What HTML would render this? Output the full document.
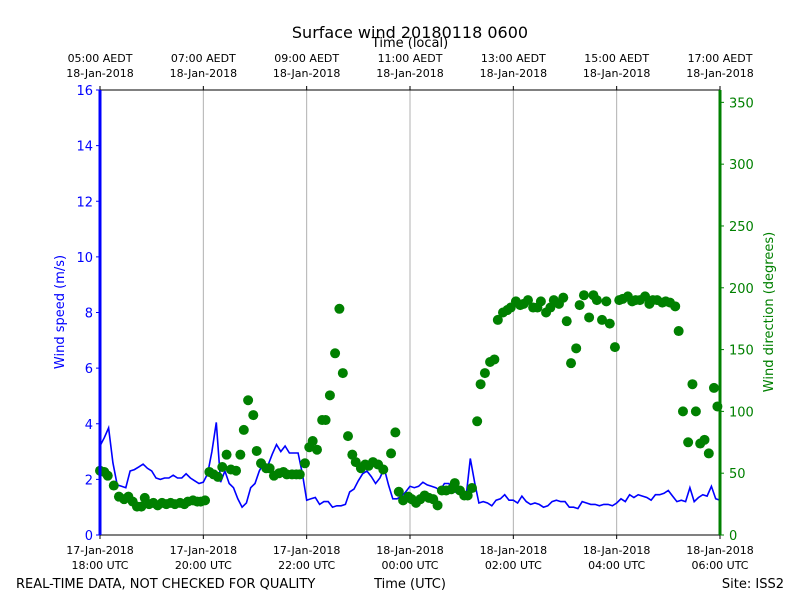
<!DOCTYPE html>
<html><head><meta charset="utf-8"><style>
body{margin:0;background:#fff}
svg{display:block;font-family:"DejaVu Sans","Liberation Sans",sans-serif}
</style></head><body>
<svg id="chart" width="800" height="600" viewBox="0 0 800 600" xmlns="http://www.w3.org/2000/svg">
<rect width="800" height="600" fill="#fff"/>
<text x="410" y="38" font-size="16" text-anchor="middle">Surface wind 20180118 0600</text>
<text x="410" y="47" font-size="13" text-anchor="middle">Time (local)</text>
<g id="grid"></g>
<g id="series"></g>
<g id="axes"></g>
<text transform="translate(64,312) rotate(-90)" font-size="13" fill="#0000ff" text-anchor="middle">Wind speed (m/s)</text>
<text transform="translate(773,312) rotate(-90)" font-size="13" fill="#008000" text-anchor="middle">Wind direction (degrees)</text>
<text x="16" y="588" font-size="13">REAL-TIME DATA, NOT CHECKED FOR QUALITY</text>
<text x="410" y="588" font-size="13" text-anchor="middle">Time (UTC)</text>
<text x="784" y="588" font-size="13" text-anchor="end">Site: ISS2</text>
</svg>
<script>
const bottomTicks=["17-Jan-2018|18:00 UTC","17-Jan-2018|20:00 UTC","17-Jan-2018|22:00 UTC","18-Jan-2018|00:00 UTC","18-Jan-2018|02:00 UTC","18-Jan-2018|04:00 UTC","18-Jan-2018|06:00 UTC"];
const topTicks=["05:00 AEDT|18-Jan-2018","07:00 AEDT|18-Jan-2018","09:00 AEDT|18-Jan-2018","11:00 AEDT|18-Jan-2018","13:00 AEDT|18-Jan-2018","15:00 AEDT|18-Jan-2018","17:00 AEDT|18-Jan-2018"];
const speedTicks=[0,2,4,6,8,10,12,14,16];
const dirTicks=[0,50,100,150,200,250,300,350];
const speed=[3.2,3.5,3.85,2.6,1.8,1.75,1.7,2.3,2.35,2.45,2.55,2.4,2.3,2.05,2.0,2.05,2.05,2.15,2.05,2.05,2.2,2.05,1.95,1.85,1.9,2.2,3.0,4.05,1.9,2.3,1.85,1.7,1.3,1.0,1.15,1.7,1.85,2.3,2.6,2.5,2.9,3.25,3.0,3.2,2.95,2.95,2.95,2.2,1.25,1.3,1.35,1.1,1.2,1.2,1.0,1.05,1.05,1.1,1.55,1.65,1.95,2.2,2.3,2.1,1.85,2.05,2.4,1.8,1.3,1.3,1.4,1.55,1.75,1.7,1.75,1.9,1.8,1.75,1.7,1.6,1.85,1.85,1.6,1.5,1.45,1.35,2.75,1.9,1.15,1.2,1.15,1.05,1.25,1.3,1.45,1.25,1.25,1.15,1.4,1.2,1.1,1.15,1.1,1.0,1.05,1.2,1.25,1.2,1.2,1.0,1.0,0.95,1.2,1.15,1.1,1.1,1.05,1.1,1.1,1.05,1.15,1.3,1.2,1.45,1.35,1.45,1.4,1.35,1.25,1.45,1.45,1.5,1.6,1.4,1.2,1.25,1.2,1.7,1.2,1.35,1.45,1.4,1.75,1.3,1.25];
const dirMinutes=[0,5,9,16,22,28,33,38,43,48,52,57,62,67,72,77,82,87,93,98,102,108,113,117,122,127,132,137,142,147,152,158,163,167,172,178,182,187,193,197,202,208,213,217,223,228,232,238,243,247,252,258,262,267,273,278,282,288,293,297,303,308,312,317,323,329,338,343,347,352,358,362,367,372,377,382,387,392,397,402,408,412,418,423,427,432,438,442,447,453,458,462,468,473,477,483,488,492,497,503,508,512,518,523,527,533,538,542,547,553,557,562,568,573,577,583,588,592,598,603,607,613,618,622,627,633,638,642,647,653,657,662,668,672,677,683,688,692,697,702,707,713,717];
const direction=[52,51,48,40,31,29,31,27,23,23,30,25,26,24,26,25,26,25,26,25,27,28,27,27,28,51,49,47,55,65,53,52,65,85,109,97,68,58,54,54,48,50,51,49,49,49,49,58,71,76,69,93,93,113,147,183,131,80,65,59,54,57,56,59,57,53,66,83,35,28,31,29,26,29,32,30,29,24,36,36,37,42,36,32,32,38,92,122,131,140,142,174,180,182,184,189,186,187,190,184,184,189,180,184,190,187,192,173,139,151,186,194,176,194,190,174,189,171,152,190,191,193,189,190,190,193,187,190,190,188,189,188,185,165,100,75,122,100,74,77,66,119,104];
const X0=100,X1=720,Y0=535,Y1=90;
const xs=m=>X0+(X1-X0)*m/720;
const ys=v=>Y0-(Y0-Y1)*v/16;
const yd=d=>Y0-(Y0-Y1)*d/360;
const NS="http://www.w3.org/2000/svg";
function mk(tag,attrs,parent,txt){const e=document.createElementNS(NS,tag);for(const k in attrs)e.setAttribute(k,attrs[k]);if(txt!=null)e.textContent=txt;parent.appendChild(e);return e;}
const grid=document.getElementById('grid'),series=document.getElementById('series'),axes=document.getElementById('axes');
bottomTicks.forEach((t,i)=>{const x=xs(i*120);
 if(i>0&&i<6){const g=mk('line',{x1:x,x2:x,y1:Y1,y2:Y0,stroke:'#b0b0b0','stroke-width':1},grid);
 
 }
 mk('line',{x1:x,x2:x,y1:Y0,y2:Y0+4,stroke:'#000'},axes);
 mk('line',{x1:x,x2:x,y1:Y1,y2:Y1-4,stroke:'#000'},axes);
 const p=t.split('|');
 const b=mk('text',{x:x,y:554,'font-size':11,'text-anchor':'middle'},axes,p[0]);
 
 
 mk('text',{x:x,y:569,'font-size':11,'text-anchor':'middle'},axes,p[1]);
 const q=topTicks[i].split('|');
 const tt=mk('text',{x:x,y:62,'font-size':11,'text-anchor':'middle'},axes,q[0]);
 
 
 mk('text',{x:x,y:77,'font-size':11,'text-anchor':'middle'},axes,q[1]);
});
let pts=speed.map((v,i)=>xs(i*5).toFixed(1)+','+ys(v).toFixed(1)).join(' ');
const line=mk('polyline',{points:pts,fill:'none',stroke:'#0000ff','stroke-width':1.6},series);


const nd=Math.min(direction.length,dirMinutes.length);
for(let i=0;i<nd;i++){const c=mk('circle',{cx:xs(dirMinutes[i]),cy:yd(direction[i]),r:5,fill:'#008000'},series);
 
 }
mk('line',{x1:X0,x2:X1,y1:Y1,y2:Y1,stroke:'#000'},axes);
mk('line',{x1:X0,x2:X1,y1:Y0,y2:Y0,stroke:'#000'},axes);
const ls=mk('line',{x1:X0,x2:X0,y1:Y1,y2:Y0,stroke:'#0000ff','stroke-width':3},axes);


const rs=mk('line',{x1:X1,x2:X1,y1:Y1,y2:Y0,stroke:'#008000','stroke-width':3},axes);


speedTicks.forEach(v=>{const y=ys(v);mk('line',{x1:X0-4,x2:X0,y1:y,y2:y,stroke:'#0000ff'},axes);
 const t=mk('text',{x:X0-7,y:y+5,'font-size':13,'text-anchor':'end',fill:'#0000ff'},axes,String(v));
 
 });
dirTicks.forEach(v=>{const y=yd(v);mk('line',{x1:X1,x2:X1+4,y1:y,y2:y,stroke:'#008000'},axes);
 const t=mk('text',{x:X1+9,y:y+5,'font-size':13,fill:'#008000'},axes,String(v));
 
 });
</script>
</body></html>
